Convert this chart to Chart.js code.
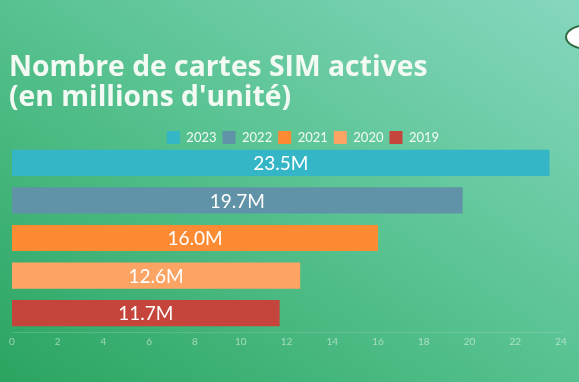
<!DOCTYPE html>
<html>
<head>
<meta charset="utf-8">
<script src="https://cdn.jsdelivr.net/npm/chart.js@4"></script>
<style>
  html, body { margin: 0; padding: 0; }
  body {
    width: 579px; height: 382px; overflow: hidden; position: relative;
    background: linear-gradient(to top right, #2ba460 0%, #57c290 50%, #86d7bf 100%);
  }
  #wrap { position: absolute; left: 0; top: 0; width: 579px; height: 382px; }
  #oval {
    position: absolute; left: 565px; top: 24px; width: 46px; height: 26px;
    border-radius: 50%; background: #ffffff; border: 2px solid #2d6b3e;
    box-sizing: border-box;
  }
</style>
</head>
<body>
<div id="oval"></div>
<div id="wrap"><canvas id="c" width="579" height="382"></canvas></div>
<script>
const titleLines = ["Nombre de cartes SIM actives", "(en millions d'unité)"];
const years = ["2023", "2022", "2021", "2020", "2019"];
const simValues = [23.5, 19.7, 16.0, 12.6, 11.7];
const valueLabels = ["23.5M", "19.7M", "16.0M", "12.6M", "11.7M"];
const barColors = ["#34b6c6", "#6093a7", "#fc8b34", "#fca464", "#c5443b"];
const xTicks = [0, 2, 4, 6, 8, 10, 12, 14, 16, 18, 20, 22, 24];

const labelPlugin = {
  id: 'barLabels',
  afterLayout(chart) {
    if (chart.legend) { chart.legend.left += 18; chart.legend.right += 18; }
  },
  afterDatasetsDraw(chart) {
    const ctx = chart.ctx;
    const meta = chart.getDatasetMeta(0);
    ctx.save();
    ctx.fillStyle = '#ffffff';
    ctx.font = '19px Lato';
    ctx.textAlign = 'center';
    ctx.textBaseline = 'middle';
    meta.data.forEach((bar, i) => {
      const cx = (bar.x + bar.base) / 2;
      ctx.fillText(valueLabels[i], cx, bar.y + 1);
    });
    ctx.restore();
  }
};

const chart = new Chart(document.getElementById('c'), {
  type: 'bar',
  data: {
    labels: years,
    datasets: [{
      data: simValues,
      backgroundColor: barColors,
      borderWidth: 0,
      categoryPercentage: 0.8,
      barPercentage: 0.87
    }]
  },
  options: {
    indexAxis: 'y',
    responsive: false,
    animation: false,
    layout: { padding: { left: 9, right: 18, top: 0, bottom: 30 } },
    plugins: {
      title: {
        display: true,
        text: titleLines,
        align: 'start',
        color: '#f2faf3',
        font: { family: 'Open Sans', weight: '700', size: 28.3, lineHeight: 1.06 },
        padding: { top: 53, bottom: 12 },
        fullSize: true
      },
      legend: {
        display: true,
        labels: {
          color: '#f2faf4',
          font: { family: 'Lato', size: 13 },
          boxWidth: 13,
          boxHeight: 13,
          padding: 6,
          generateLabels: () => years.map((y, i) => ({
            text: y, fillStyle: barColors[i], strokeStyle: barColors[i],
            lineWidth: 0, hidden: false, index: i, fontColor: '#f2faf4'
          }))
        }
      },
      tooltip: { enabled: false }
    },
    scales: {
      x: {
        min: 0, max: 24,
        afterBuildTicks: (axis) => { axis.ticks = xTicks.map(v => ({ value: v })); },
        grid: { display: false, drawTicks: false },
        border: { display: true, color: 'rgba(255,255,255,0.15)', width: 1 },
        ticks: {
          color: 'rgba(255,255,255,0.5)',
          font: { family: 'Lato', size: 10 },
          padding: 4
        }
      },
      y: {
        afterFit: (axis) => { axis.width = 3; },
        grid: { display: false, drawTicks: false },
        border: { display: false },
        ticks: { display: false }
      }
    }
  },
  plugins: [labelPlugin]
});

const origFit = chart.legend.fit;
chart.legend.fit = function () {
  origFit.call(this);
  this.height -= 10;
};
chart.update();
</script>
</body>
</html>
